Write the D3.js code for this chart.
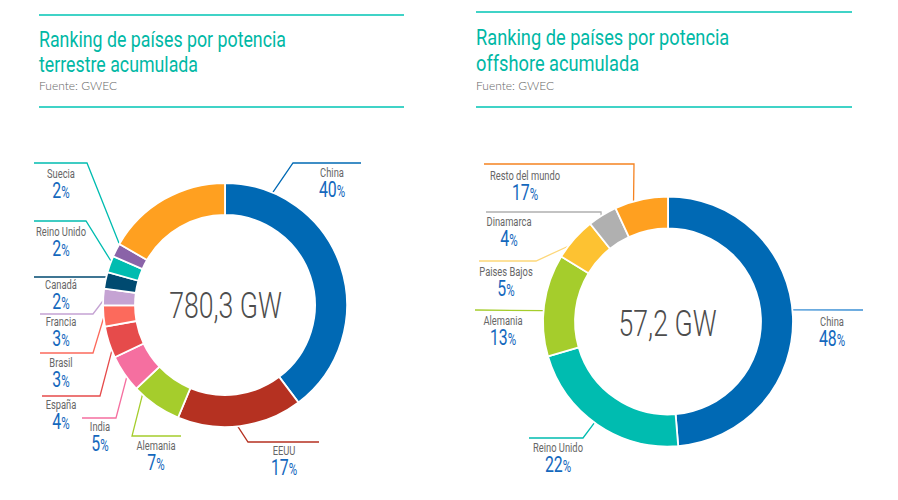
<!DOCTYPE html>
<html>
<head>
<meta charset="utf-8">
<title>Ranking de países</title>
<script src="https://cdn.jsdelivr.net/npm/d3@7"></script>
<style>
    html, body { margin: 0; padding: 0; background: #fff; }
    svg { display: block; }
    text { font-family: Roboto, "Liberation Sans", sans-serif; }
</style>
</head>
<body>
<div id="chart"></div>
<script>
'use strict';

// value = share of the ring as drawn, pct = printed label (they differ in the source)
// at = angle of the leader on the ring, leader = elbow and end of the line, lx/ly = label
const terrestre = {
    title: ['Ranking de países por potencia', 'terrestre acumulada'],
    total: '780,3 GW',
    cx: 225, cy: 305, outer: 122, inner: 90,
    ruleX: [39, 404], ruleY: [15, 107], titleX: 39, titleY: [47, 72], titleScale: 0.79, sourceY: 90,
    totalX: 225.5, totalY: 318,
    slices: [
        { name: 'China', pct: '40', value: 39.8, color: '#0069b4', at: 23, leader: [[293, 163], [361, 163]], lx: 332, ly: 177 },
        { name: 'EEUU', pct: '17', value: 16.6, color: '#b53121', at: 174, leader: [[248, 442], [319, 442]], lx: 284, ly: 455 },
        { name: 'Alemania', pct: '7', value: 6.7, color: '#a5cd2c', at: 222.6, leader: [[132, 436], [181, 436]], lx: 156, ly: 450 },
        { name: 'India', pct: '5', value: 5, color: '#f56fa0', at: 233.7, leader: [[116, 418], [82, 418]], lx: 100, ly: 431 },
        { name: 'España', pct: '4', value: 4.2, color: '#e64b4b', at: 248, leader: [[100, 396], [42, 396]], lx: 61, ly: 409 },
        { name: 'Brasil', pct: '3', value: 2.8, color: '#fc6a5c', at: 264, leader: [[93, 353], [40, 353]], lx: 61, ly: 367 },
        { name: 'Francia', pct: '3', value: 2.2, color: '#c5a3d3', at: 272, leader: [[93, 314], [40, 314]], lx: 61, ly: 326 },
        { name: 'Canadá', pct: '2', value: 2.2, color: '#004a70', at: 283, leader: [[106, 277], [34, 277]], lx: 61, ly: 289 },
        { name: 'Reino Unido', pct: '2', value: 2.2, color: '#00bcb0', at: 291, leader: [[86, 221], [34, 221]], lx: 61, ly: 236 },
        { name: 'Suecia', pct: '2', value: 1.8, color: '#8a63a8', line: '#00bcb0', at: 300, leader: [[87, 163], [34, 163]], lx: 61, ly: 178 },
        { name: '', pct: '', value: 16.7, color: '#ffa020' }
    ]
};

const offshore = {
    title: ['Ranking de países por potencia', 'offshore acumulada'],
    total: '57,2 GW',
    cx: 668, cy: 321.5, outer: 125, inner: 93,
    ruleX: [476, 852], ruleY: [12, 107], titleX: 476, titleY: [45, 71], titleScale: 0.81, sourceY: 90,
    totalX: 667.5, totalY: 336,
    slices: [
        { name: 'China', pct: '48', value: 48.7, color: '#0069b4', line: '#3a8fd5', at: 84.7, leader: [[863, 310]], lx: 832, ly: 326 },
        { name: 'Reino Unido', pct: '22', value: 21.8, color: '#00bcb0', at: 216, leader: [[583, 438], [529, 438]], lx: 558, ly: 452 },
        { name: 'Alemania', pct: '13', value: 13.2, color: '#a5cd2c', at: 275, leader: [[475, 310]], lx: 503, ly: 325 },
        { name: 'Paises Bajos', pct: '5', value: 5.6, color: '#fdc232', line: '#fdd77a', at: 307, leader: [[536, 261], [479, 261]], lx: 506, ly: 276 },
        { name: 'Dinamarca', pct: '4', value: 3.8, color: '#b0b0b0', at: 327.7, leader: [[601, 212], [486, 212]], lx: 509, ly: 226 },
        { name: 'Resto del mundo', pct: '17', value: 6.9, color: '#ffa020', line: '#f58220', at: 344, leader: [[634, 164], [484, 164]], lx: 525, ly: 180 }
    ]
};


function createSvgCanvas(where, width, height) {
    return d3.select(where)
        .append('svg')
        .attr('width', width)
        .attr('height', height)
        .attr('viewBox', '0 0 ' + width + ' ' + height);
}


function condensed(x, y, k) {
    return 'translate(' + x + ',' + y + ') scale(' + k + ',1)';
}


function drawHeader(svg, chart) {
    chart.ruleY.forEach((y) => {
        svg.append('line')
            .attr('x1', chart.ruleX[0]).attr('x2', chart.ruleX[1])
            .attr('y1', y).attr('y2', y)
            .attr('stroke', '#00c4b4')
            .attr('stroke-width', 1.6);
    });

    chart.title.forEach((line, i) => {
        svg.append('text')
            .attr('transform', condensed(chart.titleX, chart.titleY[i], chart.titleScale))
            .attr('fill', '#00b8a5')
            .attr('font-size', 22.5)
            .text(line);
    });

    svg.append('text')
        .attr('x', chart.titleX)
        .attr('y', chart.sourceY)
        .attr('fill', '#666')
        .style('font-family', 'Lato')
        .attr('font-weight', 300)
        .attr('font-size', 12)
        .text('Fuente: GWEC');
}


function drawDonut(svg, chart) {
    let pie = d3.pie().sort(null).value((d) => d.value);
    let arc = d3.arc().innerRadius(chart.inner).outerRadius(chart.outer);

    let g = svg.append('g').attr('transform', 'translate(' + chart.cx + ',' + chart.cy + ')');

    g.selectAll('path')
        .data(pie(chart.slices))
        .join('path')
        .attr('d', arc)
        .attr('fill', (d) => d.data.color)
        .attr('stroke', '#fff')
        .attr('stroke-width', 1.8);

    svg.append('text')
        .attr('transform', condensed(chart.totalX, chart.totalY, 0.72))
        .attr('text-anchor', 'middle')
        .attr('fill', '#4d4d4d')
        .attr('font-weight', 300)
        .attr('font-size', 37)
        .text(chart.total);
}


function drawLabels(svg, chart) {
    let line = d3.line();

    chart.slices.filter((d) => d.name).forEach((d) => {
        let a = d.at * Math.PI / 180;
        let start = [chart.cx + chart.outer * Math.sin(a), chart.cy - chart.outer * Math.cos(a)];

        svg.append('path')
            .attr('d', line([start].concat(d.leader)))
            .attr('fill', 'none')
            .attr('stroke', d.line || d.color)
            .attr('stroke-width', 1.3);

        svg.append('text')
            .attr('transform', condensed(d.lx, d.ly, 0.72))
            .attr('text-anchor', 'middle')
            .attr('fill', '#666')
            .attr('font-size', 13)
            .text(d.name);

        let pct = svg.append('text')
            .attr('transform', condensed(d.lx, d.ly + 20, 0.72))
            .attr('text-anchor', 'middle')
            .attr('fill', '#1468bd');
        pct.append('tspan').attr('font-size', 22).text(d.pct);
        pct.append('tspan').attr('font-size', 16).text('%');
    });
}


let svg = createSvgCanvas('#chart', 898, 500);

[terrestre, offshore].forEach((chart) => {
    drawHeader(svg, chart);
    drawLabels(svg, chart);
    drawDonut(svg, chart);
});
</script>
</body>
</html>
